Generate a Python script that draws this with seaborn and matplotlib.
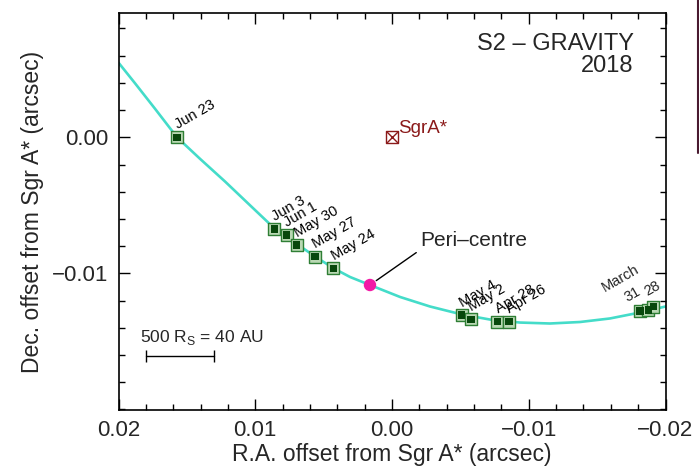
import pandas as pd
import seaborn as sns
import matplotlib.pyplot as plt
from matplotlib.ticker import MultipleLocator, FixedLocator
from matplotlib.lines import Line2D

# orbit fit
orbit_ra = [0.0200, 0.01879, 0.01733, 0.01572, 0.01404, 0.01221, 0.01038, 0.00863,
            0.00768, 0.00695, 0.00563, 0.00431, 0.00307, 0.00161, -0.00059, -0.00278,
            -0.00512, -0.00717, -0.00936, -0.01155, -0.01375, -0.01594, -0.01814, -0.0200]
orbit_dec = [0.00549, 0.00397, 0.00210, 0.0000, -0.00158, -0.00325, -0.00500, -0.00667,
             -0.00726, -0.00785, -0.00876, -0.00961, -0.01027, -0.01086, -0.01174, -0.01244,
             -0.01303, -0.01340, -0.01362, -0.01369, -0.01358, -0.01332, -0.01288, -0.01244]

# GRAVITY epochs
obs_dates = ["Jun 23", "Jun 3", "Jun 1", "May 30", "May 27", "May 24",
             "May 4", "May 2", "Apr 28", "Apr 26", "31", "", "28"]
obs_ra = [0.01572, 0.00861, 0.00770, 0.00697, 0.00563, 0.00429,
          -0.00510, -0.00578, -0.00770, -0.00856, -0.01814, -0.01874, -0.01911]
obs_dec = [0.0000, -0.00674, -0.00718, -0.00792, -0.00878, -0.00963,
           -0.01307, -0.01338, -0.01356, -0.01356, -0.01277, -0.01270, -0.01246]

peri_ra = [0.00161]
peri_dec = [-0.01086]
sgr_ra = [0.0]
sgr_dec = [0.0]

bar_ra = [0.01799, 0.01299]
bar_dec = [-0.01606, -0.01606]

obs = pd.DataFrame({"ra": obs_ra, "dec": obs_dec, "date": obs_dates})

sns.set_theme(style="ticks")
plt.rcParams["font.family"] = ["Liberation Sans", "DejaVu Sans"]
plt.rcParams["axes.unicode_minus"] = True

fig = plt.figure(figsize=(6.99, 4.71), dpi=100)
ax = fig.add_axes([118.5 / 699, 1 - 410 / 471, 547 / 699, (410 - 13.4) / 471])

sns.lineplot(x=orbit_ra, y=orbit_dec, sort=False, estimator=None,
             color="#44dcc9", lw=1.9, ax=ax)

ax.scatter(obs["ra"], obs["dec"], marker="s", s=72, facecolor="#b9d8b3",
           edgecolor="#2f7f35", linewidth=1.0, zorder=3)
sns.scatterplot(data=obs, x="ra", y="dec", marker="s", s=27, color="#08480c",
                edgecolor="none", zorder=4, ax=ax)

sns.scatterplot(x=peri_ra, y=peri_dec, marker="o", s=80, color="#f21aa6",
                edgecolor="none", zorder=5, ax=ax)

ax.scatter(sgr_ra, sgr_dec, marker="s", s=70, facecolor="none",
           edgecolor="#8b1a1a", linewidth=1.0, zorder=3)
ax.scatter(sgr_ra, sgr_dec, marker="x", s=60, color="#8b1a1a", linewidth=1.0, zorder=3)
ax.annotate("SgrA*", (sgr_ra[0], sgr_dec[0]), xytext=(4.3, 3.3),
            textcoords="offset points", ha="left", va="baseline",
            fontsize=13.5, color="#8b1a1a")

# date labels
for ra, dec, d in zip(obs_ra, obs_dec, obs_dates):
    if d in ("", "31", "28"):
        continue
    ax.annotate(d, (ra, dec), xytext=(1.6, 3.8), textcoords="offset points",
                ha="left", va="bottom", rotation=30, rotation_mode="anchor",
                fontsize=10.5, color="black")
ax.annotate("31", (obs_ra[10], obs_dec[10]), xytext=(-8, 4.3), textcoords="offset points",
            ha="left", va="bottom", rotation=30, rotation_mode="anchor", fontsize=10.5)
ax.annotate("28", (obs_ra[12], obs_dec[12]), xytext=(-3.6, 5.8), textcoords="offset points",
            ha="left", va="bottom", rotation=30, rotation_mode="anchor", fontsize=10.5)
ax.annotate("March", (obs_ra[10], obs_dec[10]), xytext=(-24, 11.5), textcoords="offset points",
            ha="left", va="bottom", rotation=30, rotation_mode="anchor", fontsize=10.5)

ax.annotate("Peri\u2013centre", (peri_ra[0], peri_dec[0]), xytext=(36.5, 32.4),
            textcoords="offset points", ha="left", va="center", fontsize=15,
            arrowprops=dict(arrowstyle="-", color="black", lw=1.0,
                            relpos=(0, 0), shrinkA=1, shrinkB=5.5))

# scale bar
ax.plot(bar_ra, bar_dec, color="black", lw=1.0, marker="|", markersize=8.5,
        markeredgewidth=1.0)
ax.text(0.01846, -0.01507, r"500 R$_\mathregular{S}$ = 40 AU", fontsize=12.5,
        ha="left", va="baseline")

ax.text(0.942, 0.923, "S2 \u2013 GRAVITY", transform=ax.transAxes, ha="right",
        va="center", fontsize=17)
ax.text(0.942, 0.868, "2018", transform=ax.transAxes, ha="right",
        va="center", fontsize=17)

ax.set_xlim(0.02, -0.02)
ax.set_ylim(-0.02005, 0.00911)
ax.xaxis.set_major_locator(FixedLocator([0.02, 0.01, 0.0, -0.01, -0.02]))
ax.yaxis.set_major_locator(FixedLocator([0.0, -0.01]))
ax.xaxis.set_minor_locator(MultipleLocator(0.002))
ax.yaxis.set_minor_locator(MultipleLocator(0.002))
ax.set_xticklabels(["0.02", "0.01", "0.00", "\u22120.01", "\u22120.02"])
ax.set_yticklabels(["0.00", "\u22120.01"])
ax.tick_params(which="both", direction="in", top=True, right=True, width=1.0,
               color="black", labelsize=16)
ax.tick_params(which="major", length=8, pad=7)
ax.tick_params(which="minor", length=4.3)
for s in ax.spines.values():
    s.set_linewidth(1.2)
    s.set_color("black")

ax.set_xlabel("R.A. offset from Sgr A* (arcsec)", fontsize=16.5, labelpad=2)
ax.set_ylabel("Dec. offset from Sgr A* (arcsec)", fontsize=16.5, labelpad=6)

# edge of the neighbouring panel
fig.add_artist(Line2D([697.5 / 699] * 2, [1.0, 1 - 153 / 471], color="#4a1a30", lw=1.5))

fig.savefig("out.png", dpi=100)
